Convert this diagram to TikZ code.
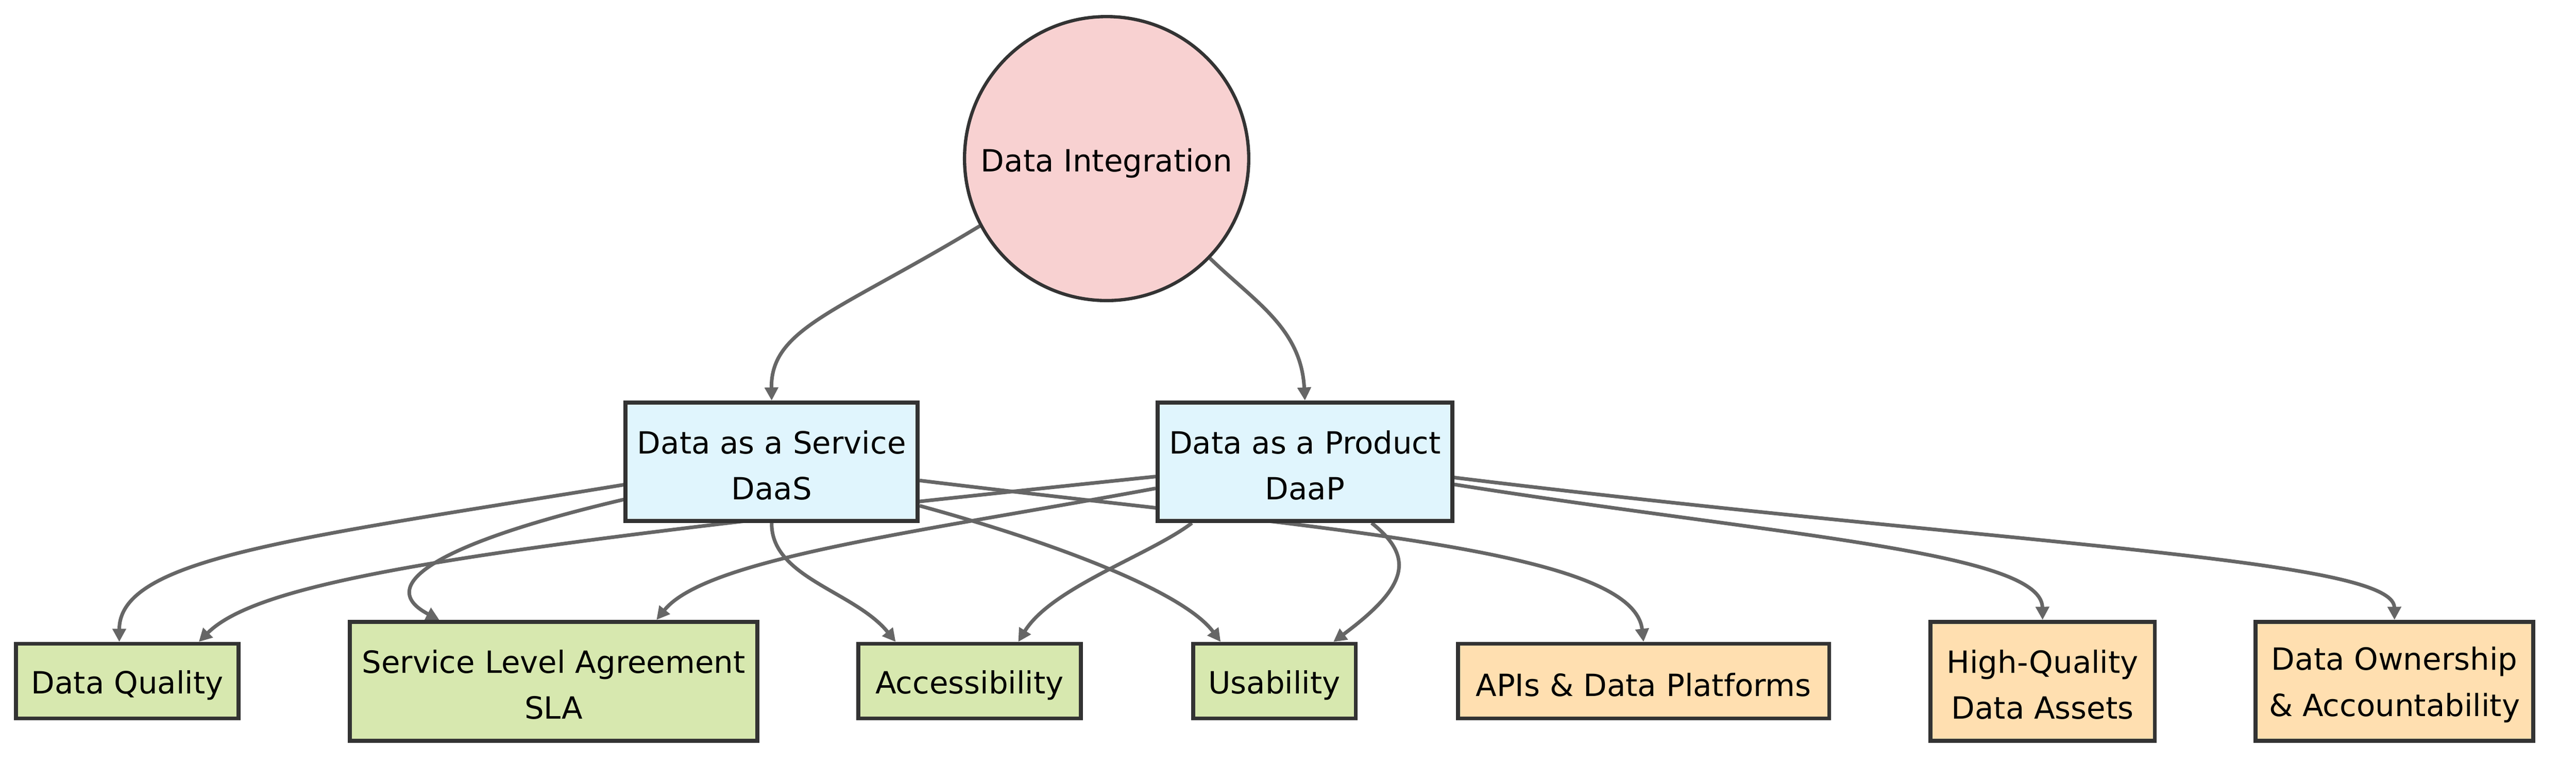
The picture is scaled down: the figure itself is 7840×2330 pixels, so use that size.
\documentclass[tikz,border=0pt]{standalone}
\usepackage{fontspec}
\setmainfont{DejaVu Sans}
\usetikzlibrary{arrows.meta}
\definecolor{pinkfill}{HTML}{F8D1D1}
\definecolor{bluefill}{HTML}{E0F5FD}
\definecolor{greenfill}{HTML}{D7E8AF}
\definecolor{orangefill}{HTML}{FFDFB0}
\definecolor{bordc}{HTML}{333333}
\definecolor{edgec}{HTML}{666666}
\pgfdeclarelayer{bg}
\pgfdeclarelayer{paper}
\pgfsetlayers{paper,bg,main}
\begin{document}
\begin{tikzpicture}[x=0.1mm,y=-0.1mm,
  box/.style={draw=bordc, line width=1.2mm, align=center, inner sep=0pt,
    font=\fontsize{26.5}{39.8}\selectfont, text=black},
  onebox/.style={box, fill=greenfill, minimum height=22.7mm,
    execute at begin node={\rule{0pt}{26.9pt}}},
  twobox/.style={box, minimum height=36.2mm,
    execute at begin node={\rule{0pt}{66pt}}},
  edge/.style={draw=edgec, line width=1.1mm, -{Triangle[length=4mm,width=4mm]}}]
\begin{pgfonlayer}{paper}
\fill[white] (0,0) rectangle (7840,2330);
\end{pgfonlayer}
\useasboundingbox (0,0) rectangle (7840,2330);

% nodes
\node[draw=bordc, line width=1mm, fill=pinkfill, circle, minimum size=86.5mm, inner sep=0pt,
  font=\fontsize{26.5}{39.8}\selectfont, execute at begin node={\rule{0pt}{28.6pt}}] (di) at (3368,483) {Data Integration};
\node[twobox, fill=bluefill, minimum width=88.9mm, minimum height=36.1mm] (daas) at (2348.5,1406.5) {Data as a Service\\DaaS};
\node[twobox, fill=bluefill, minimum width=89.7mm, minimum height=36.1mm] (daap) at (3971.5,1406.5) {Data as a Product\\DaaP};

\node[onebox, minimum width=67.7mm] (dq) at (387.5,2074.5) {Data Quality};
\node[twobox, fill=greenfill, minimum width=124mm] (sla) at (1685,2075) {Service Level Agreement\\SLA};
\node[onebox, minimum width=67.8mm] (acc) at (2951,2074.5) {Accessibility};
\node[onebox, minimum width=49.5mm] (usa) at (3878.5,2074.5) {Usability};
\node[onebox, fill=orangefill, minimum width=113mm] (api) at (5002,2074.5) {APIs \& Data Platforms};
\node[twobox, fill=orangefill, minimum width=68.3mm] (hq) at (6216.5,2075) {High-Quality\\Data Assets};
\node[twobox, fill=orangefill, minimum width=84.5mm] (do) at (7287.5,2075) {Data Ownership\\\& Accountability};

\begin{pgfonlayer}{bg}
% from Data Integration
\draw[edge] (di.208.3) .. controls (2550,950) and (2345,1000) .. (daas.north);
\draw[edge] (di.316.6) .. controls (3820,920) and (3960,1000) .. (daap.north);
% from DaaS
\draw[edge] ([yshift=-7mm]daas.west) .. controls (900,1640) and (363,1700) .. ([xshift=-2.45mm]dq.north);
\draw[edge] ([yshift=-11.5mm]daas.west) .. controls (1350,1650) and (1130,1780) .. ([xshift=-34.8mm]sla.north);
\draw[edge] (daas.south) .. controls (2347,1760) and (2600,1800) .. ([xshift=-22.5mm]acc.north);
\draw[edge] ([yshift=-13.4mm]daas.east) .. controls (3200,1650) and (3600,1800) .. ([xshift=-16.35mm]usa.north);
\draw[edge] ([yshift=-5.7mm]daas.east) .. controls (4000,1610) and (4970,1670) .. (api.north);
% from DaaP
\draw[edge] ([yshift=-4.5mm]daap.west) .. controls (1500,1660) and (800,1760) .. ([xshift=21.75mm]dq.north);
\draw[edge] ([yshift=-8.1mm]daap.west) .. controls (2800,1620) and (2150,1700) .. ([xshift=31.3mm]sla.north);
\draw[edge] ([xshift=-34.4mm]daap.south) .. controls (3500,1690) and (3200,1790) .. ([xshift=14.8mm]acc.north);
\draw[edge] ([xshift=20.3mm]daap.south) .. controls (4310,1700) and (4280,1790) .. ([xshift=17.95mm]usa.north);
\draw[edge] ([yshift=-6.9mm]daap.east) .. controls (5400,1630) and (6214,1680) .. (hq.north);
\draw[edge] ([yshift=-4.8mm]daap.east) .. controls (6100,1660) and (7286,1700) .. (do.north);
\end{pgfonlayer}
\end{tikzpicture}
\end{document}
